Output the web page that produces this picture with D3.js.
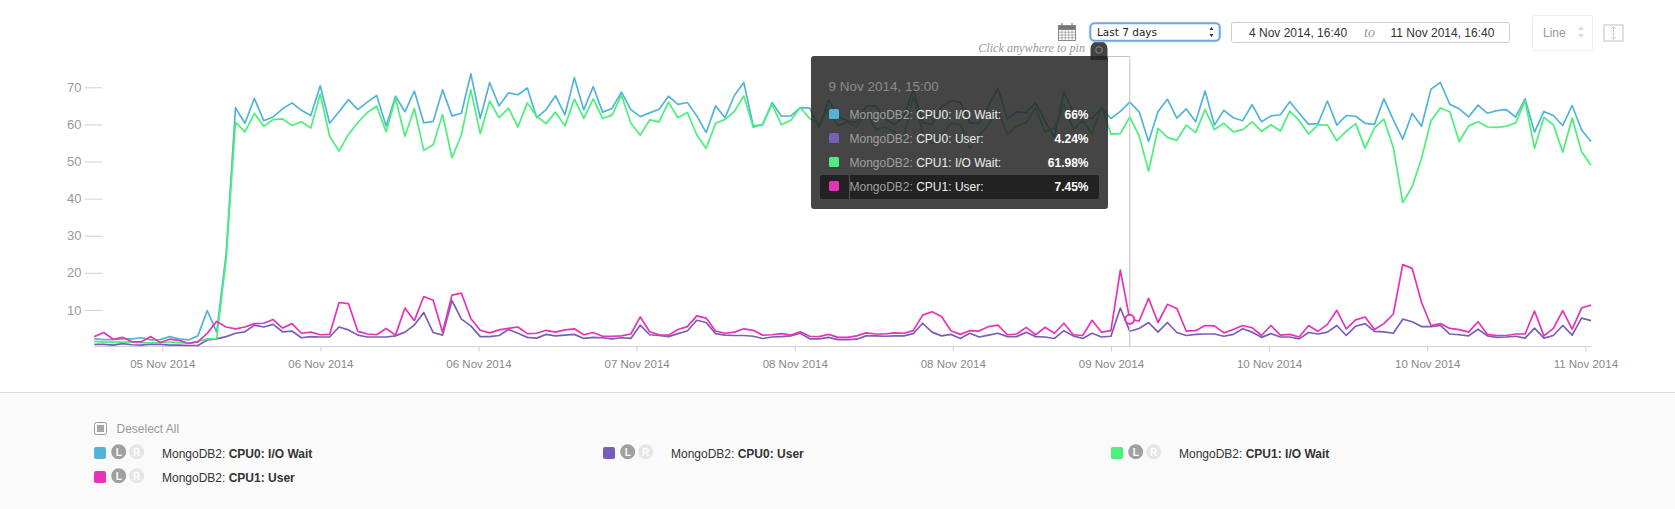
<!DOCTYPE html>
<html>
<head>
<meta charset="utf-8">
<script src="https://cdn.jsdelivr.net/npm/d3@7"></script>
<style>
  html, body { margin: 0; padding: 0; background: #fff; }
  svg { display: block; font-family: "Liberation Sans", Arial, sans-serif; }
  .y-axis text { fill: #999; font-size: 13px; }
  .y-axis line, .x-axis line, .x-axis path { stroke: #d0d0d0; }
  .x-axis text { fill: #888; font-size: 11.5px; }
  .series { fill: none; stroke-width: 1.7; stroke-linejoin: round; }
</style>
</head>
<body>
<svg id="chart" width="1675" height="509"></svg>
<script>
const cpu0Wait = [2.2,2,2,2.2,2.2,2.5,1.9,2,2.8,2.2,1.9,3,9.8,4,25,64.5,60.3,67,61,62,64.2,65.8,63.8,62.4,70.4,60.3,63.4,66.7,64,66,67.8,59.6,67.6,63.4,69,60.4,60.8,69.3,62.3,63,73.6,61.6,71.3,65,68.5,68,69.8,61.8,64,67.7,
  62.6,72.6,63.9,70.2,63.3,64.3,68.7,64,62.1,63.1,64.1,67.6,65.4,65.9,62.3,57.8,65,61.8,67.8,71.3,59.6,59.9,65.9,62.2,62.3,64.5,64.4,
  59.2,66.6,62,61,60.5,65,65,61.5,60,62,69.5,60.5,60,64.8,66.3,66,60.4,60.2,65,69.7,61.5,63.4,63.2,65.8,60.9,56.5,68.8,63.4,61.8,61.6,
  64.5,61.6,63.5,66,63.4,55.4,63.4,66.8,61.7,64.2,60.7,69,59.8,63.8,61.8,61,65.3,60.7,62.3,62.6,66.1,63,60,60.2,66.3,59.8,62.4,62.2,60.3,60,66.9,61.2,56,63,59.5,69.5,71.3,65.4,64.2,62,65.2,63,63.7,64,62,66.9,57.9,63.5,62.4,59.7,65.1,58.5,55.4];

const cpu0User = [.7,.7,.5,.9,.6,.5,.8,.7,.5,.5,.4,.4,1.9,2.2,2.8,3.7,4.1,5.9,5.4,6.1,4.1,4.3,2.5,2.8,2.7,2.7,5.4,4.6,3.2,2.7,2.7,2.7,3,4,5.9,9.3,3.9,3.2,12.5,7.5,5.7,2.8,2.8,3.1,4.7,3.7,2.6,2.4,3.4,3,
  3.2,3.4,2.3,2.6,2.5,2.2,2.5,2.3,5.9,3.3,3.1,2.8,3.6,4.3,7.2,6.6,3.6,3.2,3.1,3.1,2.9,2.3,2.7,2.8,3,3.7,2.2,2.2,2.6,2,2,2.1,3,3,2.9,3,3,3.6,6.4,4,3,3.4,2.3,3.7,2.7,3.2,3.7,2.8,2.8,4,2.8,2.7,2.3,4.4,3,2.3,
  3.7,2.7,2.9,10.5,4.24,5,6.6,4,6.6,3.9,3.1,3.4,3.5,3.5,2.9,3.4,4.9,4,2.6,3.6,2.7,2.7,2.2,3.9,3.5,4,5.8,3.1,5.6,6.3,4.2,4.1,3.7,7.5,6.8,5.5,5.5,5.8,3.5,3.3,3,4.8,3,2.6,2.7,2.9,2.4,5.1,2.4,3.1,5.8,3.2,7.8,7.1];

const cpu1Wait = [1.5,1.3,1.3,1.3,1.4,1.2,1.1,1.2,1.3,1.2,1,1.5,2.2,2.2,23.5,60.6,58,63,59.5,61.3,61.5,59.7,60.7,59,68.2,56.8,52.8,57.3,60.5,63.2,64.9,58,67,56.8,64.3,53,54.5,62.7,51,57.2,69.3,57.5,66.3,61.8,64.4,59.3,65.8,62.2,60.2,63.3,
  59.6,66.8,61.6,66.9,61.6,62.5,67.9,60.3,57.1,61.2,60.7,66,61.8,63.2,57.2,53.5,60.3,61.3,63.5,67.7,59.2,60,65.4,59.9,61.1,64.5,61.6,
  60,64.3,59.6,60.7,59.2,63.4,58.5,59.3,58,56.5,67.5,58,54.7,57,60.3,60,53.5,57,60,64,57.2,59.6,60.5,64.5,58,59,65.5,58.7,61,57.6,
  64.8,57.4,57.5,61.98,56.9,47.4,58.9,56.5,55.7,59.8,57.8,64,58.6,60.3,58,58.6,60.7,58.1,59.9,58.2,63.6,61,57.4,59.9,59.8,55.6,58.2,60.2,53.6,59.1,61.4,53.8,38.9,43.2,50.9,60.9,64.4,63.4,55.4,59.6,60.7,59.3,59.2,59.5,60.4,66.3,53.6,61.9,59.9,52.5,61.7,52.6,49];

const cpu1User = [2.8,3.9,2.1,2.6,1.4,1.4,2.8,1.2,2.1,1.8,1,1.4,3.7,6.9,5.4,4.9,5.4,6.3,6.4,7.4,5.1,6.3,3.7,4,3.3,3.4,12,11.7,4.2,3.5,3.3,5,3.2,10.5,7.1,13.6,12.6,4,14,14.5,7.7,4.5,3.8,4.6,5,5.4,3.6,3.7,4.5,4,
  4.6,4.9,3.3,3.9,2.9,2.9,3,3.5,8.1,4.1,3.3,3.2,4.7,5.5,8.4,7.8,4.3,3.7,4,4.9,4.5,3.2,3.3,3.6,3.2,4.1,2.9,2.8,3.4,2.6,2.6,3,3.8,3.5,3.5,3.8,3.7,4.4,8.6,9.5,8.2,4.4,3.4,4.4,4.3,5.5,5.9,3.3,3.5,5.3,3.3,5.3,3.7,6.4,3.3,3.1,
  7.2,4,4.4,20.7,7.45,7,13.1,6.6,11.5,10.4,4.3,4.4,5.8,5.7,3.8,4.7,5.8,5.2,3.1,5.8,3.2,3.4,2.7,5.8,4.2,6.1,9.9,4.9,7.3,8.1,4.7,6.3,8.9,22.2,21.2,12,5.8,6.3,5,4.7,4,6.8,3.4,3.1,3.1,3.5,3.5,9.7,3,5,9.8,4.8,10.5,11.3];

const seriesNames = ['CPU0: I/O Wait', 'CPU0: User', 'CPU1: I/O Wait', 'CPU1: User'];
const seriesValues = [cpu0Wait, cpu0User, cpu1Wait, cpu1User];
const seriesColors = ['#52b4d8', '#7a5db8', '#4af07a', '#e832b8'];
const hoverValues = ['66%', '4.24%', '61.98%', '7.45%'];
const hoverIndex = 110;

const yTicks = [10, 20, 30, 40, 50, 60, 70];
// tick positions are in sample numbers, the axis does not land on samples
const xTickSamples = [7.22, 24.02, 40.81, 57.61, 74.41, 91.2, 108, 124.8, 141.6, 158.4];
const xTickLabels = ['05 Nov 2014', '06 Nov 2014', '06 Nov 2014', '07 Nov 2014', '08 Nov 2014', '08 Nov 2014', '09 Nov 2014', '10 Nov 2014', '10 Nov 2014', '11 Nov 2014'];

const svg = d3.select('#chart');

const x = d3.scaleLinear().domain([0, cpu0Wait.length - 1]).range([94.3, 1591]);
const y = d3.scaleLinear().domain([0, 70]).range([347, 87.3]);

// y axis
svg.append('g')
  .attr('class', 'y-axis')
  .attr('transform', 'translate(102.5,0)')
  .call(d3.axisLeft(y).tickValues(yTicks).tickSize(18).tickPadding(3))
  .call(g => g.select('.domain').remove());

// x axis
const xAxis = svg.append('g')
  .attr('class', 'x-axis')
  .attr('transform', 'translate(0,346.5)')
  .call(d3.axisBottom(x).tickValues(xTickSamples).tickSize(5).tickSizeOuter(0).tickPadding(8)
    .tickFormat((d, i) => xTickLabels[i]));
xAxis.select('.domain').attr('d', 'M94,0H1591');

// series
const line = d3.line().x((d, i) => x(i)).y(d => y(d));
svg.selectAll('.series')
  .data(seriesValues)
  .enter().append('path')
  .attr('class', 'series')
  .attr('d', line)
  .attr('stroke', (d, i) => seriesColors[i]);

// hover marker
const hoverX = x(hoverIndex);
svg.append('path')
  .attr('d', `M1100,56.5H${hoverX}V346`)
  .attr('fill', 'none')
  .attr('stroke', '#c4c4c4');
svg.append('circle')
  .attr('cx', hoverX)
  .attr('cy', y(cpu1User[hoverIndex]))
  .attr('r', 4.5)
  .attr('fill', '#fff')
  .attr('stroke', seriesColors[3])
  .attr('stroke-width', 2);

// tooltip
svg.append('text')
  .attr('x', 1085).attr('y', 52)
  .attr('text-anchor', 'end')
  .attr('font-family', '"Liberation Serif", serif')
  .attr('font-style', 'italic')
  .attr('font-size', 12.2)
  .attr('fill', '#999')
  .text('Click anywhere to pin');

svg.append('path')
  .attr('d', 'M1090.5,60V49a8.5,8.5 0 0 1 17,0V60Z')
  .attr('fill', '#444');
svg.append('circle')
  .attr('cx', 1099).attr('cy', 50).attr('r', 3.3)
  .attr('fill', 'none').attr('stroke', '#888');

svg.append('rect')
  .attr('x', 811).attr('y', 56).attr('width', 297).attr('height', 153).attr('rx', 3)
  .attr('fill', 'rgba(36,36,36,0.85)');

svg.append('text')
  .attr('x', 828.5).attr('y', 91)
  .attr('font-size', 13.5)
  .attr('fill', '#8c8c8c')
  .text('9 Nov 2014, 15:00');

svg.append('rect')
  .attr('x', 820).attr('y', 175).attr('width', 279).attr('height', 24).attr('rx', 2)
  .attr('fill', '#222');
svg.append('line')
  .attr('x1', 849.5).attr('x2', 849.5).attr('y1', 175).attr('y2', 199)
  .attr('stroke', '#555');

const rows = svg.selectAll('.tip-row')
  .data(seriesNames)
  .enter().append('g')
  .attr('class', 'tip-row')
  .attr('transform', (d, i) => `translate(0,${114 + i * 24})`);
rows.append('rect')
  .attr('x', 829).attr('y', -5).attr('width', 10).attr('height', 10).attr('rx', 1.5)
  .attr('fill', (d, i) => seriesColors[i]);
const tipLabel = rows.append('text')
  .attr('x', 849.5).attr('y', 5)
  .attr('font-size', 12);
tipLabel.append('tspan').attr('fill', '#a0a0a0').text('MongoDB2: ');
tipLabel.append('tspan').attr('fill', '#eee').text(d => d + ':');
rows.append('text')
  .attr('x', 1088.5).attr('y', 5)
  .attr('text-anchor', 'end')
  .attr('font-size', 12)
  .attr('font-weight', 'bold')
  .attr('fill', '#fff')
  .text((d, i) => hoverValues[i]);

// calendar icon
const cal = svg.append('g').attr('fill', 'none').attr('stroke', '#888');
cal.append('rect').attr('x', 1058.5).attr('y', 25.5).attr('width', 17).attr('height', 15).attr('fill', '#fff');
cal.append('rect').attr('x', 1058.5).attr('y', 25.5).attr('width', 17).attr('height', 4).attr('fill', '#777');
d3.range(1, 5).forEach(k => {
  cal.append('line').attr('x1', 1058.5 + k * 3.4).attr('x2', 1058.5 + k * 3.4).attr('y1', 29.5).attr('y2', 40.5).attr('stroke-width', .6);
});
d3.range(1, 4).forEach(k => {
  cal.append('line').attr('x1', 1058.5).attr('x2', 1075.5).attr('y1', 29.5 + k * 2.75).attr('y2', 29.5 + k * 2.75).attr('stroke-width', .6);
});
[1062, 1072].forEach(cx => {
  cal.append('line').attr('x1', cx).attr('x2', cx).attr('y1', 23).attr('y2', 26).attr('stroke-width', 1.4);
});

// range select
svg.append('rect')
  .attr('x', 1090.5).attr('y', 23.5).attr('width', 129).attr('height', 17).attr('rx', 4)
  .attr('fill', 'none').attr('stroke', '#a9cbee').attr('stroke-width', 3.4);
svg.append('rect')
  .attr('x', 1090.5).attr('y', 23.5).attr('width', 129).attr('height', 17).attr('rx', 4)
  .attr('fill', '#fff').attr('stroke', '#6ea5dd').attr('stroke-width', 1.6);
svg.append('text')
  .attr('x', 1097).attr('y', 36)
  .attr('font-family', '"DejaVu Sans", sans-serif')
  .attr('font-size', 10.5)
  .attr('fill', '#222')
  .text('Last 7 days');
svg.append('path')
  .attr('d', 'M1209.5,30l2,-3l2,3ZM1209.5,34l2,3l2,-3Z')
  .attr('fill', '#333');

// date box
svg.append('rect')
  .attr('x', 1231.5).attr('y', 22.5).attr('width', 278).attr('height', 20).attr('rx', 2)
  .attr('fill', '#fff').attr('stroke', '#ccc');
svg.append('text')
  .attr('x', 1249).attr('y', 37)
  .attr('font-size', 12).attr('fill', '#333')
  .text('4 Nov 2014, 16:40');
svg.append('text')
  .attr('x', 1364).attr('y', 37)
  .attr('font-family', '"Liberation Serif", serif').attr('font-style', 'italic')
  .attr('font-size', 14).attr('fill', '#999')
  .text('to');
svg.append('text')
  .attr('x', 1390.5).attr('y', 37)
  .attr('font-size', 12).attr('fill', '#333')
  .text('11 Nov 2014, 16:40');

// chart type box
svg.append('rect')
  .attr('x', 1532.5).attr('y', 15.5).attr('width', 60).attr('height', 35).attr('rx', 2)
  .attr('fill', '#fff').attr('stroke', '#eee');
svg.append('text')
  .attr('x', 1543).attr('y', 37)
  .attr('font-size', 12).attr('fill', '#999')
  .text('Line');
svg.append('path')
  .attr('d', 'M1578,30l3,-4l3,4ZM1578,34l3,4l3,-4Z')
  .attr('fill', '#ddd');
svg.append('rect')
  .attr('x', 1604).attr('y', 25).attr('width', 19).attr('height', 16)
  .attr('fill', '#fff').attr('stroke', '#ddd').attr('stroke-width', 1.8);
svg.append('path')
  .attr('d', 'M1613.5,27V39M1611,29l2.5,-2.5l2.5,2.5M1611,37l2.5,2.5l2.5,-2.5')
  .attr('fill', 'none').attr('stroke', '#ccc');

// legend panel
svg.append('rect')
  .attr('x', 0).attr('y', 392).attr('width', 1675).attr('height', 117)
  .attr('fill', '#fafafa');
svg.append('line')
  .attr('x1', 0).attr('x2', 1675).attr('y1', 392.5).attr('y2', 392.5)
  .attr('stroke', '#ddd');

svg.append('rect')
  .attr('x', 94.5).attr('y', 422.5).attr('width', 12).attr('height', 12).attr('rx', 2)
  .attr('fill', 'none').attr('stroke', '#999');
svg.append('rect')
  .attr('x', 97).attr('y', 425).attr('width', 7).attr('height', 7)
  .attr('fill', '#a5a5a5');
svg.append('text')
  .attr('x', 116.5).attr('y', 432.5)
  .attr('font-size', 12).attr('fill', '#999')
  .text('Deselect All');

const legendX = [94, 603, 1111];
const legendRowY = [453, 477];
const legendItems = svg.selectAll('.legend-item')
  .data(seriesNames)
  .enter().append('g')
  .attr('class', 'legend-item')
  .attr('transform', (d, i) => `translate(${legendX[i % 3]},${legendRowY[Math.floor(i / 3)]})`);
legendItems.append('rect')
  .attr('y', -6).attr('width', 12).attr('height', 12).attr('rx', 2)
  .attr('fill', (d, i) => seriesColors[i]);
[['L', 24.7, '#a0a0a0'], ['R', 42.7, '#e6e6e6']].forEach(([t, cx, color]) => {
  legendItems.append('circle')
    .attr('cx', cx).attr('cy', -1.3).attr('r', 7.5)
    .attr('fill', color);
  legendItems.append('text')
    .attr('x', cx).attr('y', 2.5)
    .attr('text-anchor', 'middle')
    .attr('font-size', 10).attr('font-weight', 'bold')
    .attr('fill', '#fff')
    .text(t);
});
const legendLabel = legendItems.append('text')
  .attr('x', 68).attr('y', 5)
  .attr('font-size', 12).attr('fill', '#333');
legendLabel.append('tspan').text('MongoDB2: ');
legendLabel.append('tspan').attr('font-weight', 'bold').text(d => d);
</script>
</body>
</html>
